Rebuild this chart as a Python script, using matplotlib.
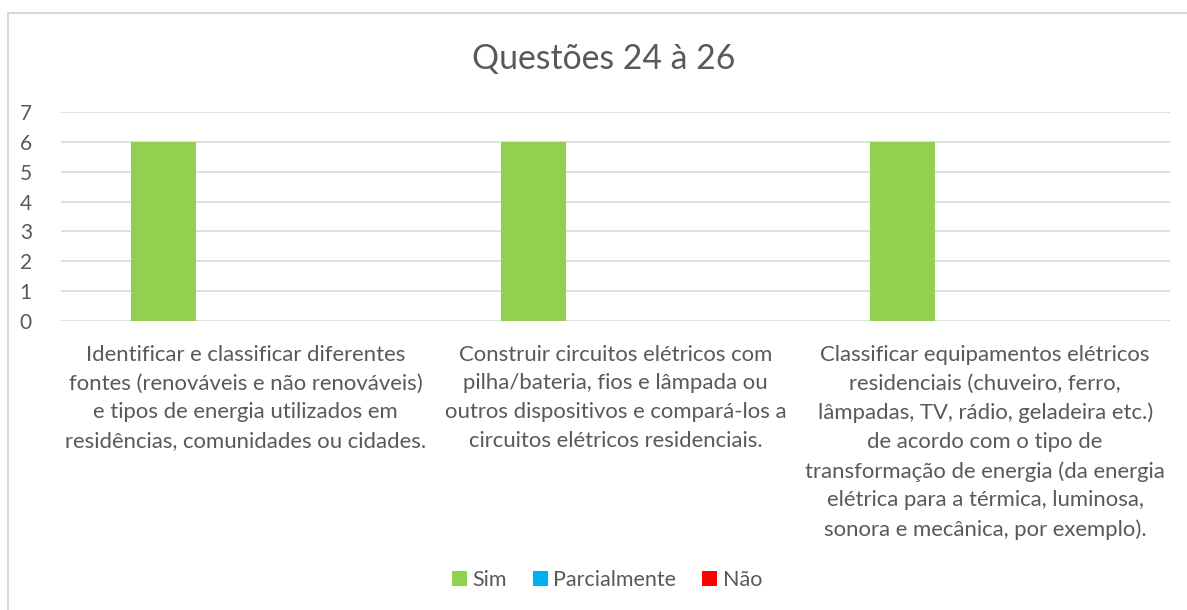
'''
Bar chart of answers for questions 24 to 26.
'''

import numpy as np
import matplotlib.pyplot as plt
from matplotlib.lines import Line2D

CATEGORIES = [
    'Identificar e classificar diferentes\nfontes (renováveis e não renováveis)\ne tipos de energia utilizados em\nresidências, comunidades ou cidades.',
    'Construir circuitos elétricos com\npilha/bateria, fios e lâmpada ou\noutros dispositivos e compará-los a\ncircuitos elétricos residenciais.',
    'Classificar equipamentos elétricos\nresidenciais (chuveiro, ferro,\nlâmpadas, TV, rádio, geladeira etc.)\nde acordo com o tipo de\ntransformação de energia (da energia\nelétrica para a térmica, luminosa,\nsonora e mecânica, por exemplo).',
]
SERIES = ['Sim', 'Parcialmente', 'Não']
SIM = [6, 6, 6]
PARCIALMENTE = [0, 0, 0]
NAO = [0, 0, 0]
COLORS = ['#92D050', '#00B0F0', '#FF0000']
TITLE = 'Questões 24 à 26'

TEXT = '#595959'
GRID = '#D9D9D9'
W, H = 1187, 610


def main():
    plt.rcParams['font.family'] = ['Lato', 'DejaVu Sans']
    fig = plt.figure(figsize=(W / 100, H / 100), dpi=100)
    ax = fig.add_axes([61 / W, 1 - 321 / H, (1170 - 61) / W, (321 - 112) / H])

    x = np.arange(len(CATEGORIES))
    barwidth = 0.176
    step = 0.223
    for i, (name, vals) in enumerate(zip(SERIES, [SIM, PARCIALMENTE, NAO])):
        ax.bar(x + (i - 1) * step, vals, width=barwidth, color=COLORS[i],
               label=name, zorder=3)

    ax.set_xlim(-0.5, len(CATEGORIES) - 0.5)
    ax.set_ylim(0, 7)
    ax.set_yticks(range(0, 8))
    ax.grid(axis='y', color=GRID, linewidth=1.2, zorder=0)
    for s in ax.spines.values():
        s.set_visible(False)
    ax.tick_params(axis='y', length=0, labelsize=15, labelcolor=TEXT, pad=21)
    ax.set_xticks(x)
    ax.set_xticklabels(CATEGORIES, fontsize=15.9, color=TEXT,
                       linespacing=1.55, va='top', ha='center')
    ax.tick_params(axis='x', length=0, pad=17)

    fig.text(604 / W, 1 - 59 / H, TITLE, ha='center', va='center',
             fontsize=24.3, color=TEXT)

    fig.legend(loc='center', bbox_to_anchor=(607 / W, 1 - 580 / H),
               ncol=3, frameon=False, fontsize=15.5, labelcolor=TEXT,
               handlelength=0.7, handleheight=0.7, handletextpad=0.25,
               columnspacing=1.2)

    # chart border (cut off at the right and bottom)
    fig.add_artist(Line2D([8 / W, 8 / W], [1 - 13 / H, 0], color=GRID,
                          linewidth=1.5, transform=fig.transFigure))
    fig.add_artist(Line2D([8 / W, 1], [1 - 13 / H, 1 - 13 / H], color=GRID,
                          linewidth=1.5, transform=fig.transFigure))

    plt.savefig('out.png', dpi=100)


if __name__ == '__main__':
    main()
